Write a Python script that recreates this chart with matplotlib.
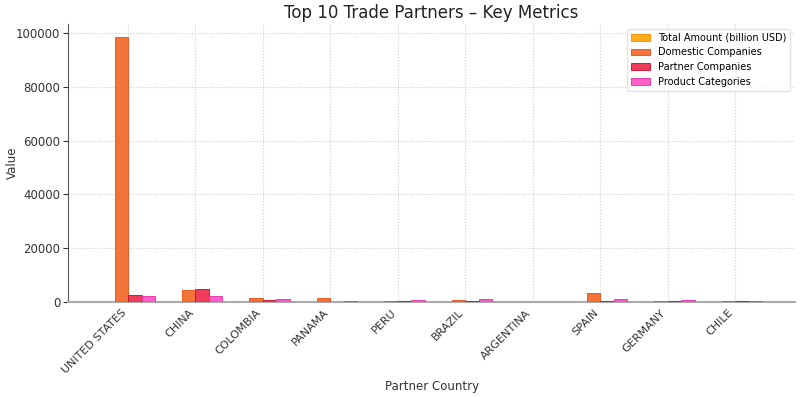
import numpy as np
import pandas as pd
from matplotlib import pyplot as plt

countries = ["UNITED STATES", "CHINA", "COLOMBIA", "PANAMA", "PERU",
             "BRAZIL", "ARGENTINA", "SPAIN", "GERMANY", "CHILE"]
total_amount = [45, 12, 4, 3, 2, 2, 1, 3, 2, 1]
domestic = [98500, 4600, 1500, 1400, 600, 750, 200, 3300, 600, 250]
partner = [2500, 4800, 850, 100, 400, 600, 150, 550, 500, 250]
product = [2100, 2350, 1250, 500, 750, 1000, 200, 1100, 900, 350]

df = pd.DataFrame({
    "Total Amount (billion USD)": total_amount,
    "Domestic Companies": domestic,
    "Partner Companies": partner,
    "Product Categories": product,
}, index=countries)

colors = ["#FFA500", "#F26522", "#F0284A", "#FF4DC4"]
edges = ["#FF8C00", "#E8501A", "#C8102E", "#E830A8"]

fig, ax = plt.subplots(figsize=(8, 3.97), dpi=100)
x = np.arange(len(countries))
w = 0.2
for i, col in enumerate(df.columns):
    ax.bar(x + (i - 1.5) * w, df[col], w, color=colors[i], edgecolor=edges[i],
           linewidth=0.7, alpha=0.9, label=col, zorder=3)

ax.set_xticks(x)
ax.set_xticklabels(countries, rotation=45, ha="right", fontsize=8, color="#333333")
ax.tick_params(axis="y", labelsize=8.5, colors="#333333", pad=2)
ax.tick_params(axis="x", length=0, pad=4)
ax.grid(True, linestyle=":", color="#cccccc", linewidth=0.8, zorder=0)
for s in ["top", "right"]:
    ax.spines[s].set_visible(False)
ax.spines["left"].set_color("#555555")
ax.spines["bottom"].set_color("#aaaaaa")
ax.spines["bottom"].set_linewidth(1.5)

ax.set_title("Top 10 Trade Partners – Key Metrics", fontsize=12, color="#222222", pad=4)
ax.set_xlabel("Partner Country", fontsize=8.5, color="#333333", labelpad=3)
ax.set_ylabel("Value", fontsize=8.5, color="#333333")
ax.yaxis.set_label_coords(-0.068, 0.5)
ax.legend(loc="upper right", fontsize=7, frameon=True, edgecolor="#dddddd")

fig.subplots_adjust(left=0.085, right=0.994, top=0.94, bottom=0.239)
fig.savefig("out.png", dpi=100)
